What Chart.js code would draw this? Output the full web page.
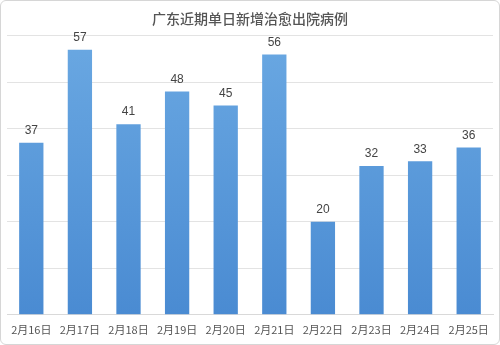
<!DOCTYPE html>
<html>
<head>
<meta charset="utf-8">
<script src="https://cdn.jsdelivr.net/npm/chart.js@4.4.1/dist/chart.umd.min.js"></script>
<style>
  html, body { margin: 0; padding: 0; background: #fff; }
  #wrap { width: 498px; height: 343px; border: 1px solid #d6d6d6; border-radius: 6px; position: relative; overflow: hidden; }
</style>
</head>
<body>
<div id="wrap"><canvas id="chart" width="498" height="343"></canvas></div>
<script>
const dates = ['2月16日','2月17日','2月18日','2月19日','2月20日','2月21日','2月22日','2月23日','2月24日','2月25日'];
const cured = [37, 57, 41, 48, 45, 56, 20, 32, 33, 36];

const labelPlugin = {
    id: 'valueLabels',
    afterDatasetsDraw(chart) {
        const ctx = chart.ctx;
        const meta = chart.getDatasetMeta(0);
        ctx.save();
        ctx.font = '12px "Liberation Sans", Arial, sans-serif';
        ctx.fillStyle = '#444';
        ctx.textAlign = 'center';
        ctx.textBaseline = 'bottom';
        meta.data.forEach((bar, i) => {
            ctx.fillText(cured[i], bar.x, bar.y - 6);
        });
        ctx.restore();
    }
};

const chart = document.querySelector('#chart').getContext('2d');

function barFill(context) {
    const area = context.chart.chartArea;
    if (!area) return '#5b9bd5';
    const g = context.chart.ctx.createLinearGradient(0, area.top, 0, area.bottom);
    g.addColorStop(0, '#6aa8e2');
    g.addColorStop(1, '#4a8bd2');
    return g;
}

new Chart(chart, {
    type: 'bar',
    data: {
        labels: dates,
        datasets: [
            {
                label: '治愈出院',
                data: cured,
                backgroundColor: barFill,
                barPercentage: 0.5,
                categoryPercentage: 1
            }
        ]
    },
    options: {
        responsive: false,
        animation: false,
        layout: { padding: { left: 6, right: 6, bottom: 8 } },
        plugins: {
            legend: { display: false },
            tooltip: { enabled: false },
            title: {
                display: true,
                text: '广东近期单日新增治愈出院病例',
                color: '#555',
                font: { size: 14, weight: '500', family: '"Noto Sans CJK SC", sans-serif' },
                padding: { top: 9, bottom: 9 }
            }
        },
        scales: {
            x: {
                grid: { display: false },
                border: { color: '#d9d9d9' },
                ticks: {
                    color: '#555',
                    font: { size: 11, family: '"Noto Sans CJK SC", sans-serif' },
                    padding: 0,
                    maxRotation: 0,
                    autoSkip: false
                }
            },
            y: {
                min: 0,
                max: 60,
                ticks: { stepSize: 10, display: false },
                grid: { color: '#e3e3e3', drawTicks: false },
                border: { display: false }
            }
        }
    },
    plugins: [labelPlugin]
});
</script>
</body>
</html>
